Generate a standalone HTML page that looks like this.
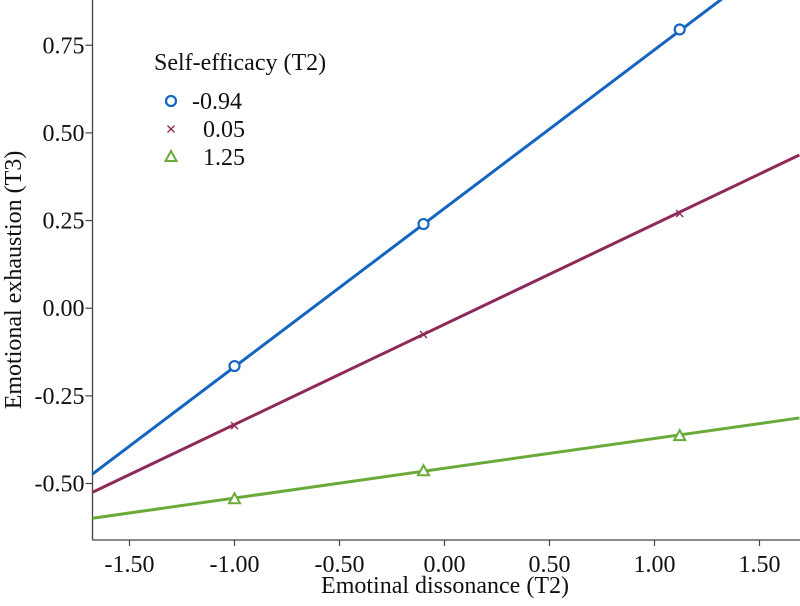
<!DOCTYPE html>
<html><head><meta charset="utf-8"><style>
html,body{margin:0;padding:0;background:#fff;}
svg{display:block;font-family:"Liberation Serif",serif;}
</style></head><body>
<svg id="chart" width="800" height="606"></svg>
<script>
const xTicks=[-1.5,-1.0,-0.5,0.0,0.5,1.0,1.5];
const xTickLabels=["-1.50","-1.00","-0.50","0.00","0.50","1.00","1.50"];
const yTicks=[-0.5,-0.25,0.0,0.25,0.5,0.75];
const yTickLabels=["-0.50","-0.25","0.00","0.25","0.50","0.75"];
const seriesNames=["-0.94","0.05","1.25"];
const pointX=[-1.0,-0.1,1.12];
const blueY=[-0.165,0.24,0.795];
const purpleY=[-0.335,-0.075,0.27];
const greenY=[-0.545,-0.465,-0.365];
const lineXRange=[-1.676,1.69];
const blueLine=[-0.473,1.049];
const purpleLine=[-0.525,0.437];
const greenLine=[-0.599,-0.313];

const NS="http://www.w3.org/2000/svg";
const svg=document.getElementById('chart');
const L=92.5,T=0,R=800,B=540;
const xs=v=>444.5+v*210;
const ys=v=>308.2-v*350.6;
function mk(tag,attrs,parent){const e=document.createElementNS(NS,tag);for(const k in attrs)e.setAttribute(k,attrs[k]);(parent||svg).appendChild(e);return e;}
const defs=mk('defs',{});
const cp=mk('clipPath',{id:'plotclip'},defs);
mk('rect',{x:L,y:T,width:R-L,height:B-T},cp);

const yAxis=mk('line',{x1:L,y1:0,x2:L,y2:B,stroke:'#444','stroke-width':1.3});


const xAxis=mk('line',{x1:L,y1:B,x2:800,y2:B,stroke:'#444','stroke-width':1.3});


xTicks.forEach((v,i)=>{
  const t=mk('line',{x1:xs(v),y1:B,x2:xs(v),y2:B+6,stroke:'#444','stroke-width':1.2});
  
  
  const l=mk('text',{x:xs(v),y:B+32,'text-anchor':'middle','font-size':24,fill:'#111'});
  l.textContent=xTickLabels[i];
  
  
});
yTicks.forEach((v,i)=>{
  const t=mk('line',{x1:L-7,y1:ys(v),x2:L,y2:ys(v),stroke:'#444','stroke-width':1.2});
  
  
  const l=mk('text',{x:L-8,y:ys(v)+8,'text-anchor':'end','font-size':24,fill:'#111'});
  l.textContent=yTickLabels[i];
  
  
});
const xt=mk('text',{x:445,y:593,'text-anchor':'middle','font-size':24,fill:'#111'});
xt.textContent='Emotinal dissonance (T2)';


const yt=mk('text',{x:0,y:0,'text-anchor':'middle','font-size':24,fill:'#111',transform:'translate(21,280) rotate(-90)'});
yt.textContent='Emotional exhaustion (T3)';



const colors=['#1565c0','#8e2a5a','#6aaa3a'];
const lines=[blueLine,purpleLine,greenLine];
const pts=[blueY,purpleY,greenY];
const g=mk('g',{'clip-path':'url(#plotclip)'});
function marker(k,cx,cy,parent){
  let m;
  if(k===0) m=mk('circle',{cx:cx,cy:cy,r:5,fill:'#fff',stroke:colors[0],'stroke-width':2.2},parent);
  else if(k===1) m=mk('path',{d:`M${cx-3.5},${cy-3.5}L${cx+3.5},${cy+3.5}M${cx-3.5},${cy+3.5}L${cx+3.5},${cy-3.5}`,stroke:colors[1],'stroke-width':1.4,fill:'none'},parent);
  else m=mk('path',{d:`M${cx},${cy-6}L${cx+5.5},${cy+4}L${cx-5.5},${cy+4}Z`,fill:'#fff',stroke:colors[2],'stroke-width':2},parent);
  return m;
}
lines.forEach((ln,k)=>{
  const p=mk('line',{x1:xs(lineXRange[0]),y1:ys(ln[0]),x2:xs(lineXRange[1]),y2:ys(ln[1]),stroke:colors[k],'stroke-width':3},g);
  
  
  pointX.forEach((x,i)=>{
    const m=marker(k,xs(x),ys(pts[k][i]),g);
    
    
  });
});

const lg=mk('g',{});


const lt=mk('text',{x:154,y:70,'font-size':24,fill:'#111'},lg);
lt.textContent='Self-efficacy (T2)';


const ry=[101,129,157];
seriesNames.forEach((n,k)=>{
  const m=marker(k,171,ry[k],lg);
  
  
  const t=mk('text',{x:k===0?192:203,y:ry[k]+8,'font-size':24,fill:'#111'},lg);
  t.textContent=n;
  
  
});
</script>
</body></html>
